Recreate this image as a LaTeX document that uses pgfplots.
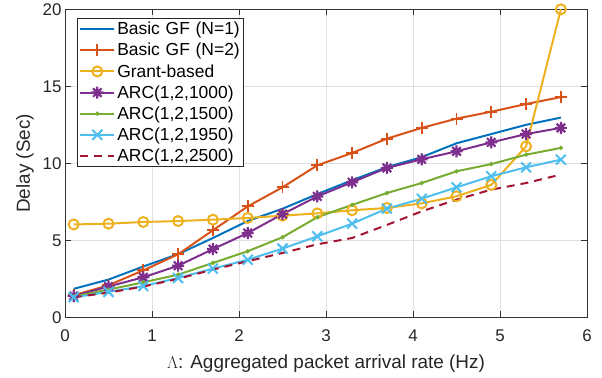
\documentclass[border=0pt]{standalone}
\usepackage{pgfplots}
\pgfplotsset{compat=1.18}
\usepackage{fontspec}
\setmainfont{Liberation Sans}
\usetikzlibrary{calc}
\definecolor{mblue}{rgb}{0,0.447,0.741}
\definecolor{morange}{rgb}{0.85,0.325,0.098}
\definecolor{myellow}{rgb}{0.929,0.694,0.125}
\definecolor{mpurple}{rgb}{0.494,0.184,0.556}
\definecolor{mgreen}{rgb}{0.466,0.674,0.188}
\definecolor{mcyan}{rgb}{0.301,0.745,0.933}
\definecolor{mred}{rgb}{0.635,0.078,0.184}
\newcommand{\wsp}{\hspace{0.33em}}
\pgfdeclareplotmark{mstar}{%
  \pgfpathmoveto{\pgfqpoint{-\pgfplotmarksize}{0pt}}\pgfpathlineto{\pgfqpoint{\pgfplotmarksize}{0pt}}%
  \pgfpathmoveto{\pgfqpoint{0pt}{-\pgfplotmarksize}}\pgfpathlineto{\pgfqpoint{0pt}{\pgfplotmarksize}}%
  \pgfpathmoveto{\pgfqpoint{-0.707\pgfplotmarksize}{-0.707\pgfplotmarksize}}\pgfpathlineto{\pgfqpoint{0.707\pgfplotmarksize}{0.707\pgfplotmarksize}}%
  \pgfpathmoveto{\pgfqpoint{-0.707\pgfplotmarksize}{0.707\pgfplotmarksize}}\pgfpathlineto{\pgfqpoint{0.707\pgfplotmarksize}{-0.707\pgfplotmarksize}}%
  \pgfusepathqstroke}
\begin{document}
\begin{tikzpicture}
\begin{axis}[
  scale only axis,
  width=522bp, height=308bp,
  xmin=0, xmax=6, ymin=0, ymax=20,
  xtick={0,1,2,3,4,5,6},
  ytick={0,5,10,15,20},
  tick align=inside,
  tick pos=both,
  major tick length=6bp,
  grid=major,
  grid style={color=black!12, line width=0.7pt},
  axis line style={color=black!80, line width=0.7pt},
  tick style={color=black!80, line width=0.7pt},
  /pgf/number format/assume math mode=true,
  ticklabel style={font=\fontsize{17}{20}\selectfont, color=black!85},
  x tick label style={yshift=-9bp},
  label style={font=\fontsize{19}{22}\selectfont, color=black!85},
  xlabel={$\Lambda$: Aggregated packet arrival rate (Hz)},
  ylabel={Delay (Sec)},
  xlabel style={yshift=-6bp},
  ylabel style={yshift=2bp},
  legend cell align=left,
  legend style={at={(rel axis cs:0,1)}, xshift=12bp, yshift=-9bp, anchor=north west,
    font=\fontsize{17.5}{20}\selectfont, draw=black!85, line width=0.7pt,
    row sep=3bp, inner xsep=2bp, inner ysep=1.5bp},
  legend image code/.code={\draw[mark repeat=2,mark phase=2] plot coordinates {(0bp,0bp)(17bp,0bp)(34bp,0bp)};},
  every axis plot/.append style={line width=2pt},
]
\addplot[color=mblue, no marks] coordinates {
(0.1,1.85)(0.5,2.45)(0.9,3.3)(1.3,4.1)(1.7,5.15)(2.1,6.25)(2.5,7.05)(2.9,8.0)(3.3,8.9)(3.7,9.75)(4.1,10.4)(4.5,11.3)(4.9,11.9)(5.3,12.5)(5.7,12.97)};
\addlegendentry{Basic\wsp GF\wsp (N=1)}
\addplot[color=morange, mark=+, mark size=6bp, mark options={line width=2pt}] coordinates {
(0.1,1.43)(0.5,2.08)(0.9,3.05)(1.3,4.09)(1.7,5.65)(2.1,7.2)(2.5,8.44)(2.9,9.87)(3.3,10.67)(3.7,11.6)(4.1,12.3)(4.5,12.9)(4.9,13.35)(5.3,13.85)(5.7,14.3)};
\addlegendentry{Basic\wsp GF\wsp (N=2)}
\addplot[color=myellow, mark=o, mark size=5bp, mark options={line width=2pt}] coordinates {
(0.1,6.03)(0.5,6.08)(0.9,6.19)(1.3,6.25)(1.7,6.34)(2.1,6.45)(2.5,6.6)(2.9,6.75)(3.3,6.95)(3.7,7.1)(4.1,7.4)(4.5,7.86)(4.9,8.6)(5.3,11.1)(5.7,20.0)};
\addlegendentry{Grant-based}
\addplot[color=mpurple, mark=mstar, mark size=6bp, mark options={line width=2.2pt}] coordinates {
(0.1,1.38)(0.5,2.0)(0.9,2.6)(1.3,3.35)(1.7,4.43)(2.1,5.47)(2.5,6.7)(2.9,7.85)(3.3,8.77)(3.7,9.7)(4.1,10.26)(4.5,10.78)(4.9,11.36)(5.3,11.9)(5.7,12.3)};
\addlegendentry{ARC(1,2,1000)}
\addplot[color=mgreen, mark=*, mark size=1bp] coordinates {
(0.1,1.35)(0.5,1.8)(0.9,2.27)(1.3,2.77)(1.7,3.53)(2.1,4.29)(2.5,5.2)(2.9,6.5)(3.3,7.3)(3.7,8.07)(4.1,8.72)(4.5,9.48)(4.9,9.95)(5.3,10.56)(5.7,11.0)};
\addlegendentry{ARC(1,2,1500)}
\addplot[color=mcyan, mark=x, mark size=7bp, mark options={line width=2pt}] coordinates {
(0.1,1.3)(0.5,1.65)(0.9,2.03)(1.3,2.55)(1.7,3.16)(2.1,3.74)(2.5,4.46)(2.9,5.26)(3.3,6.08)(3.7,7.06)(4.1,7.7)(4.5,8.44)(4.9,9.16)(5.3,9.74)(5.7,10.24)};
\addlegendentry{ARC(1,2,1950)}
\addplot[color=mred, no marks, dash pattern=on 8bp off 6bp] coordinates {
(0.1,1.3)(0.5,1.6)(0.9,2.0)(1.3,2.5)(1.7,3.1)(2.1,3.64)(2.5,4.18)(2.9,4.74)(3.3,5.15)(3.7,6.0)(4.1,6.88)(4.5,7.64)(4.9,8.29)(5.3,8.72)(5.7,9.27)};
\addlegendentry{ARC(1,2,2500)}
\end{axis}
\path ($(current axis.south west)+(-65bp,-60bp)$) rectangle ($(current axis.north east)+(15bp,8bp)$);
\end{tikzpicture}
\end{document}
